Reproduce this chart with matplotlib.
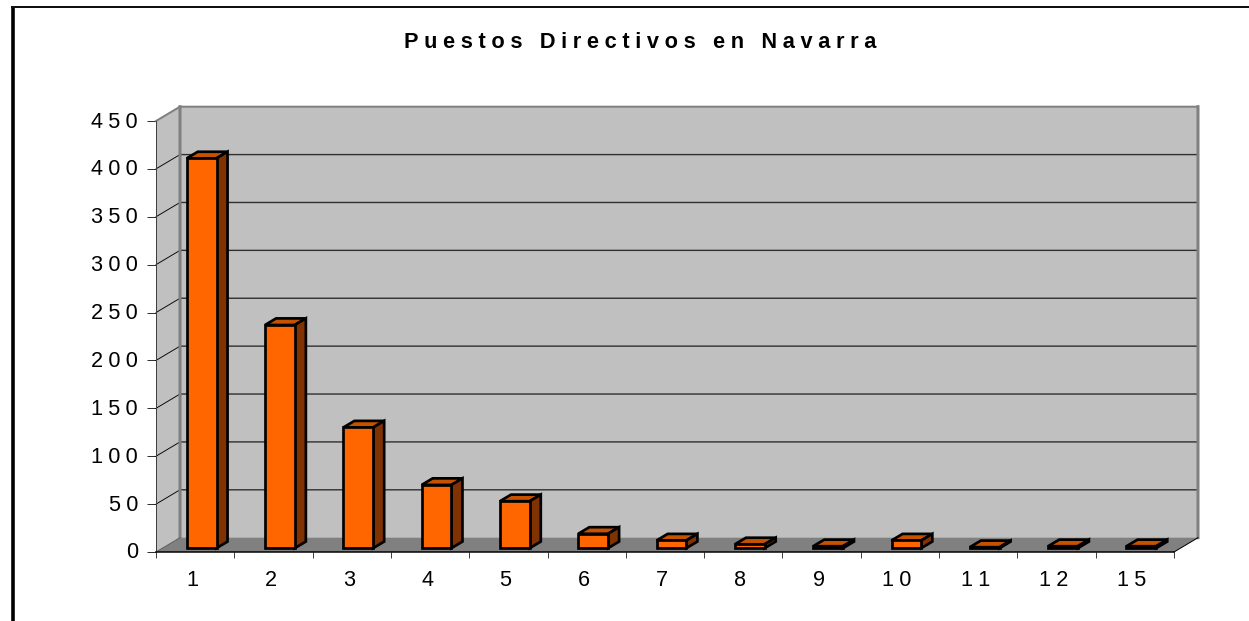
import matplotlib
matplotlib.use("Agg")
import matplotlib.pyplot as plt
from matplotlib.patches import Polygon
from matplotlib.lines import Line2D
from matplotlib.transforms import Affine2D, IdentityTransform

categories = ["1", "2", "3", "4", "5", "6", "7", "8", "9", "10", "11", "12", "15"]
values = [407, 233, 126, 66, 49, 15, 8, 4, 2, 8, 1, 2, 2]
y_ticks = [0, 50, 100, 150, 200, 250, 300, 350, 400, 450]
title = "Puestos Directivos en Navarra"

W, H = 1249, 621
DX, DY = 24, 14.3
BAR_W = 0.38
HS = "\u200a"
PX = 0.72

def spaced(s, n=3):
    return (HS * n).join(s)

plt.rcParams["font.family"] = ["Liberation Sans", "DejaVu Sans"]
fig = plt.figure(figsize=(W / 100, H / 100), dpi=100, facecolor="white")
L, R, B, T = 156, 1174, 552, 121
ax = fig.add_axes([L / W, 1 - B / H, (R - L) / W, (B - T) / H])
ax.set_xlim(0, len(categories))
ax.set_ylim(0, 450)
ax.patch.set_visible(False)

def proj(x, y, d=0.0):
    px, py = ax.transData.transform((x, y))
    return (px + DX * d, py + DY * d)

def face(points, fc, ec="none", lw=0.0, z=1):
    ax.add_patch(Polygon(points, closed=True, facecolor=fc, edgecolor=ec, linewidth=lw,
                         transform=IdentityTransform(), zorder=z, clip_on=False,
                         joinstyle="miter"))

def seg(p, q, color, lw, z=2):
    line = Line2D([p[0], q[0]], [p[1], q[1]], color=color, linewidth=lw,
                  transform=IdentityTransform(), zorder=z, clip_on=False,
                  solid_capstyle="projecting")
    line.set_snap(False)
    ax.add_line(line)

n = len(categories)
# walls and floor
face([proj(0, 0, 1), proj(n, 0, 1), proj(n, 450, 1), proj(0, 450, 1)], "#C0C0C0", z=1)
face([proj(0, 0), proj(0, 0, 1), proj(0, 450, 1), proj(0, 450)], "#C0C0C0", z=1)
face([proj(0, 0), proj(n, 0), proj(n, 0, 1), proj(0, 0, 1)], "#808080", z=2.5)
# wall gridlines
for v in y_ticks[1:-1]:
    seg(proj(0, v), proj(0, v, 1), "#000000", 0.9 * PX, z=2)
    seg(proj(0, v, 1), proj(n, v, 1), "#303030", 1.4 * PX, z=2)
# wall borders
seg(proj(0, 0, 1), proj(0, 450, 1), "#808080", 3 * PX, z=2.2)
seg(proj(n, 0, 1), proj(n, 450, 1), "#808080", 3 * PX, z=2.2)
seg(proj(0, 450, 1), proj(n, 450, 1), "#808080", 2 * PX, z=2.2)
seg(proj(0, 450), proj(0, 450, 1), "#808080", 2 * PX, z=2.2)
seg(proj(n, 0), proj(n, 0, 1), "#000000", 1 * PX, z=2.6)
seg(proj(0, 0), proj(0, 0, 1), "#606060", 1 * PX, z=2.6)

# bars
d0, d1 = 0.27, 0.73
xs = [i + 0.5 for i in range(n)]
ax.bar(xs, values, width=BAR_W, color="#FF6600", edgecolor="black", linewidth=2.7 * PX,
       transform=ax.transData + Affine2D().translate(DX * d0, DY * d0), zorder=4, clip_on=False)
for x, v in zip(xs, values):
    x0, x1 = x - BAR_W / 2, x + BAR_W / 2
    face([proj(x0, v, d0), proj(x1, v, d0), proj(x1, v, d1), proj(x0, v, d1)],
         "#C65200", "black", 2.7 * PX, z=3.5)
    face([proj(x1, 0, d0), proj(x1, 0, d1), proj(x1, v, d1), proj(x1, v, d0)],
         "#803300", "black", 2.7 * PX, z=3.5)

# axes
for s in ("top", "right"):
    ax.spines[s].set_visible(False)
ax.spines["left"].set_linewidth(1 * PX)
ax.spines["left"].set_color("#404040")
ax.spines["bottom"].set_linewidth(1.5 * PX)
ax.spines["bottom"].set_color("black")
for sp in ax.spines.values():
    sp.set_zorder(5)
ax.set_yticks(y_ticks)
ax.set_yticklabels([spaced(str(v)) for v in y_ticks], fontsize=15.6, color="black")
ax.set_xticks(range(n + 1), minor=False)
ax.set_xticklabels([""] * (n + 1))
ax.set_xticks(xs, minor=True)
ax.set_xticklabels([spaced(c) for c in categories], minor=True, fontsize=15.6, color="black")
ax.tick_params(axis="y", length=6.5, width=1 * PX, color="#303030", pad=6.5)
ax.tick_params(axis="x", which="major", length=4.5, width=1 * PX, color="#404040")
ax.tick_params(axis="x", which="minor", length=0, pad=13)
for lab in ax.get_xticklabels(minor=True):
    lab.set_transform(lab.get_transform() + Affine2D().translate(-3, 0))
for lab in ax.get_yticklabels():
    lab.set_transform(lab.get_transform() + Affine2D().translate(0, 1.5))

fig.text(640 / W, 1 - 43 / H, spaced(title, 3), ha="center", va="center",
         fontsize=15.7, fontweight="bold", color="black")

# outer frame
fig.add_artist(Line2D([12.8 / W, 12.8 / W], [0, 1 - 6 / H], color="black", linewidth=3.6 * PX,
                      transform=fig.transFigure, solid_capstyle="butt"))
fig.add_artist(Line2D([11 / W, 1], [1 - 7 / H, 1 - 7 / H], color="#111111", linewidth=2 * PX,
                      transform=fig.transFigure, solid_capstyle="butt"))

fig.savefig("out.png", dpi=100, facecolor="white")
